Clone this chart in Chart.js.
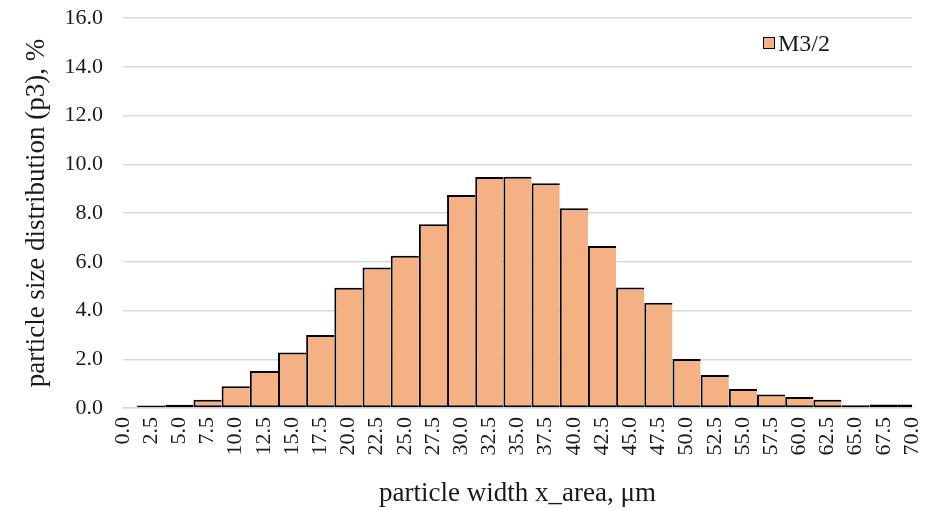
<!DOCTYPE html>
<html><head><meta charset="utf-8">
<script src="https://cdn.jsdelivr.net/npm/chart.js@4.4.1/dist/chart.umd.min.js"></script>
<style>
html,body{margin:0;padding:0;background:#fff;}
#wrap{position:relative;width:930px;height:510px;}
#legend{position:absolute;left:763px;top:29px;font-family:"Liberation Serif";font-size:24px;color:#1a1a1a;display:flex;align-items:center;line-height:28px;}
#legend .sw{width:10px;height:10px;border:1.5px solid #000;margin-right:3px;}
</style></head><body>
<div id="wrap"><canvas id="c" width="930" height="510"></canvas><div id="legend"></div></div>
<script>
const categories = ['0.0','2.5','5.0','7.5','10.0','12.5','15.0','17.5','20.0','22.5','25.0','27.5','30.0','32.5','35.0','37.5','40.0','42.5','45.0','47.5','50.0','52.5','55.0','57.5','60.0','62.5','65.0','67.5','70.0'];
const seriesName = 'M3/2';
const values = [0, 0.1, 0.13, 0.34, 0.89, 1.52, 2.28, 2.99, 4.93, 5.76, 6.25, 7.54, 8.74, 9.48, 9.49, 9.22, 8.2, 6.65, 4.94, 4.32, 2.01, 1.35, 0.78, 0.55, 0.45, 0.34, 0.11, 0.14, 0.14];
const yTicks = [0, 2, 4, 6, 8, 10, 12, 14, 16];
const xTitle = 'particle width x_area, μm';
const yTitle = 'particle size distribution (p3), %';

const FONT = 'Liberation Serif';
const TEXT = '#1a1a1a';

const htmlLegend = {
  id: 'htmlLegend',
  afterUpdate(chart) {
    const el = document.getElementById('legend');
    el.innerHTML = '';
    chart.data.datasets.forEach(ds => {
      const sw = document.createElement('span');
      sw.className = 'sw';
      sw.style.background = ds.backgroundColor;
      const t = document.createElement('span');
      t.textContent = ds.label;
      el.appendChild(sw); el.appendChild(t);
    });
  }
};

new Chart(document.getElementById('c'), {
  type: 'bar',
  data: {
    labels: categories,
    datasets: [{
      label: seriesName,
      data: values,
      backgroundColor: '#F4B183',
      borderColor: '#000',
      borderWidth: 2,
      borderSkipped: 'right',
      barPercentage: 1.0,
      categoryPercentage: 1.0,
      inflateAmount: 0,
      clip: 0
    }]
  },
  options: {
    responsive: false,
    animation: false,
    layout: { autoPadding: false, padding: { left: 0, right: 18, top: 18, bottom: 0 } },
    plugins: { legend: { display: false }, tooltip: { enabled: false } },
    scales: {
      x: {
        offset: false,
        grid: { display: false, drawTicks: false },
        border: { display: true, color: '#D9D9D9', width: 1.5 },
        ticks: {
          autoSkip: false, maxRotation: 90, minRotation: 90, padding: 9,
          color: TEXT, font: { family: FONT, size: 22 }
        },
        title: { display: true, text: xTitle, color: TEXT, font: { family: FONT, size: 27 }, padding: { top: 0, bottom: 0 } },
        afterFit(scale) { scale.height = 102; scale.paddingLeft = 0; scale.paddingRight = 0; }
      },
      y: {
        min: 0, max: 16,
        afterBuildTicks(scale) { scale.ticks = yTicks.map(v => ({ value: v })); },
        grid: { color: '#D9D9D9', lineWidth: 1.5, drawTicks: false },
        border: { display: false },
        ticks: {
          padding: 20, color: TEXT, font: { family: FONT, size: 22 },
          callback: v => Number(v).toFixed(1)
        },
        title: { display: true, text: yTitle, color: TEXT, font: { family: FONT, size: 27 }, padding: { top: 21, bottom: 0 } },
        afterFit(scale) { scale.width = 123; scale.paddingTop = 0; scale.paddingBottom = 0; }
      }
    }
  },
  plugins: [htmlLegend]
});
</script>
</body></html>
